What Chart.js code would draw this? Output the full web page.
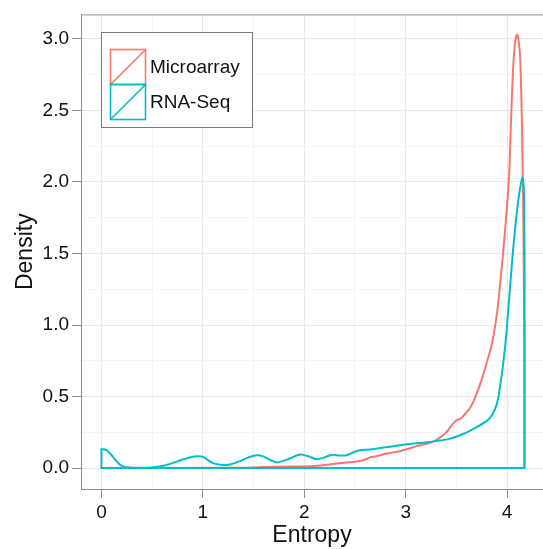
<!DOCTYPE html>
<html><head><meta charset="utf-8">
<script src="https://cdn.jsdelivr.net/npm/chart.js@4"></script>
<style>html,body{margin:0;padding:0;background:#fff}canvas{display:block}</style>
</head><body>
<canvas id="c" width="543" height="549"></canvas>
<script>
// ---- data ----
const seriesNames = ['Microarray', 'RNA-Seq'];
const seriesColors = ['#F8766D', '#00BFC4'];

const microarrayX = [0, 0.5, 1.0, 1.3, 1.5, 1.7, 1.9, 2.0, 2.1, 2.2, 2.3, 2.4, 2.5, 2.55, 2.6, 2.65, 2.7, 2.75, 2.8, 2.85, 2.9, 2.95, 3.0, 3.05, 3.1, 3.15, 3.2, 3.25, 3.3, 3.35, 3.4, 3.45, 3.5, 3.55, 3.6, 3.65, 3.7, 3.75, 3.8, 3.85, 3.9, 3.93, 3.96, 3.99, 4.02, 4.04, 4.06, 4.08, 4.1, 4.115, 4.13, 4.145, 4.155, 4.163, 4.17];
const microarrayY = [0.001, 0.001, 0.002, 0.003, 0.005, 0.01, 0.012, 0.012, 0.015, 0.022, 0.03, 0.038, 0.045, 0.05, 0.06, 0.075, 0.082, 0.09, 0.1, 0.107, 0.113, 0.12, 0.13, 0.14, 0.152, 0.16, 0.168, 0.178, 0.195, 0.22, 0.25, 0.295, 0.334, 0.35, 0.39, 0.44, 0.52, 0.62, 0.74, 0.867, 1.08, 1.28, 1.5, 1.75, 2.05, 2.45, 2.8, 2.98, 3.03, 2.98, 2.85, 2.45, 2.0, 1.5, 0.8];

const rnaseqX = [0, 0.03, 0.06, 0.1, 0.14, 0.18, 0.22, 0.3, 0.4, 0.5, 0.6, 0.7, 0.8, 0.9, 0.955, 1.0, 1.1, 1.2, 1.27, 1.35, 1.45, 1.53, 1.6, 1.67, 1.74, 1.85, 1.96, 2.05, 2.12, 2.2, 2.27, 2.35, 2.42, 2.5, 2.55, 2.65, 2.8, 3.0, 3.24, 3.44, 3.57, 3.7, 3.8, 3.85, 3.9, 3.93, 3.96, 3.99, 4.02, 4.05, 4.09, 4.12, 4.15, 4.165, 4.172];
const rnaseqY = [0.132, 0.13, 0.12, 0.09, 0.055, 0.025, 0.01, 0.003, 0.002, 0.005, 0.015, 0.035, 0.06, 0.08, 0.083, 0.078, 0.035, 0.022, 0.025, 0.045, 0.075, 0.09, 0.08, 0.055, 0.04, 0.065, 0.095, 0.08, 0.062, 0.075, 0.093, 0.088, 0.09, 0.115, 0.125, 0.13, 0.145, 0.165, 0.183, 0.206, 0.24, 0.287, 0.33, 0.37, 0.45, 0.57, 0.72, 0.92, 1.18, 1.45, 1.75, 1.92, 2.03, 1.95, 1.5];

const xMajorTicks = [0, 1, 2, 3, 4];
const xMinorTicks = [0.5, 1.5, 2.5, 3.5];
const yMajorTicks = [0, 0.5, 1, 1.5, 2, 2.5, 3];
const yMinorTicks = [0.25, 0.75, 1.25, 1.75, 2.25, 2.75];
const xTitle = 'Entropy';
const yTitle = 'Density';

// ---- build ----
const toPts = (xs, ys) => xs.map((x, i) => ({x: x, y: ys[i]}));
// density outline is closed down to the baseline (like geom_density)
const closure = (xs, ys) => {
  const n = xs.length - 1;
  return [{x: xs[n], y: ys[n]}, {x: xs[n], y: 0}, {x: xs[0], y: 0}, {x: xs[0], y: ys[0]}];
};
const FONT = "'Liberation Sans', Arial, Helvetica, sans-serif";
const AXIS = '#8f8f8f';

function isMajor(list, v) { return list.some(t => Math.abs(t - v) < 1e-9); }

const topBorder = {
  id: 'topBorder',
  afterDraw(chart) {
    const {ctx, chartArea: a} = chart;
    ctx.save();
    ctx.strokeStyle = AXIS; ctx.lineWidth = 1;
    ctx.beginPath(); ctx.moveTo(a.left, a.top + 0.5); ctx.lineTo(a.right, a.top + 0.5); ctx.stroke();
    ctx.restore();
  }
};

const ggLegend = {
  id: 'ggLegend',
  afterDraw(chart, args, o) {
    const ctx = chart.ctx;
    ctx.save();
    ctx.fillStyle = '#fff';
    ctx.fillRect(o.x, o.y, o.w, o.h);
    ctx.strokeStyle = '#7a7a7a'; ctx.lineWidth = 1;
    ctx.strokeRect(o.x + 0.5, o.y + 0.5, o.w, o.h);
    const ds = chart.data.datasets.filter(d => d.inLegend).sort((a, b) => a.legendIndex - b.legendIndex);
    ds.forEach((d, i) => {
      const kx = o.x + o.keyX, ky = o.y + o.keyY + i * o.keyH;
      ctx.strokeStyle = d.borderColor; ctx.lineWidth = 1.6;
      ctx.strokeRect(kx + 0.5, ky + 0.5, o.keyW, o.keyH);
      ctx.beginPath(); ctx.moveTo(kx + 0.5, ky + o.keyH + 0.5); ctx.lineTo(kx + o.keyW + 0.5, ky + 0.5); ctx.stroke();
      ctx.fillStyle = '#111';
      ctx.font = o.font;
      ctx.textBaseline = 'middle';
      ctx.fillText(d.label, kx + o.keyW + 5, ky + o.keyH / 2 + 1);
    });
    ctx.restore();
  }
};

const common = {showLine: true, pointRadius: 0, pointHitRadius: 0, borderWidth: 2, fill: false, borderJoinStyle: 'round', borderCapStyle: 'round'};

new Chart(document.getElementById('c'), {
  type: 'scatter',
  data: {
    datasets: [
      Object.assign({label: seriesNames[1], inLegend: true, legendIndex: 1, data: toPts(rnaseqX, rnaseqY), borderColor: seriesColors[1], order: 0, tension: 0.3}, common),
      Object.assign({label: seriesNames[1] + ' base', data: closure(rnaseqX, rnaseqY), borderColor: seriesColors[1], order: 1, tension: 0}, common),
      Object.assign({label: seriesNames[0], inLegend: true, legendIndex: 0, data: toPts(microarrayX, microarrayY), borderColor: seriesColors[0], order: 2, tension: 0.3}, common),
      Object.assign({label: seriesNames[0] + ' base', data: closure(microarrayX, microarrayY), borderColor: seriesColors[0], order: 3, tension: 0}, common)
    ]
  },
  options: {
    responsive: false, animation: false, devicePixelRatio: 1,
    layout: {padding: {top: 12, right: 0, left: 0, bottom: 0}},
    plugins: {
      legend: {display: false}, tooltip: {enabled: false},
      ggLegend: {x: 101, y: 32, w: 151, h: 95, keyX: 9, keyY: 17, keyW: 35, keyH: 35, font: '19px ' + FONT}
    },
    scales: {
      x: {
        type: 'linear', min: -0.202, max: 4.354,
        afterBuildTicks: ax => { ax.ticks = xMajorTicks.concat(xMinorTicks).sort((a, b) => a - b).map(v => ({value: v})); },
        afterFit: s => { s.height = 60; },
        ticks: {autoSkip: false, maxRotation: 0, padding: 3, color: '#111', font: {family: FONT, size: 19},
          callback: v => isMajor(xMajorTicks, v) ? String(v) : ''},
        grid: {color: c => isMajor(xMajorTicks, c.tick.value) ? '#e8e8e8' : '#f5f5f5', lineWidth: 1,
          tickColor: c => isMajor(xMajorTicks, c.tick.value) ? AXIS : 'rgba(0,0,0,0)', tickLength: 9, drawTicks: true},
        border: {color: AXIS, width: 1},
        title: {display: true, text: xTitle, color: '#111', font: {family: FONT, size: 23}, padding: {top: 0, bottom: 0}}
      },
      y: {
        type: 'linear', min: -0.146, max: 3.171,
        afterBuildTicks: ax => { ax.ticks = yMajorTicks.concat(yMinorTicks).sort((a, b) => a - b).map(v => ({value: v})); },
        afterFit: s => { s.width = 81; },
        ticks: {autoSkip: false, padding: 3, color: '#111', font: {family: FONT, size: 19},
          callback: v => isMajor(yMajorTicks, v) ? v.toFixed(1) : ''},
        grid: {color: c => isMajor(yMajorTicks, c.tick.value) ? '#e8e8e8' : '#f5f5f5', lineWidth: 1,
          tickColor: c => isMajor(yMajorTicks, c.tick.value) ? AXIS : 'rgba(0,0,0,0)', tickLength: 9, drawTicks: true},
        border: {color: AXIS, width: 1},
        title: {display: true, text: yTitle, color: '#111', font: {family: FONT, size: 23}, padding: {top: 12, bottom: 0}}
      }
    }
  },
  plugins: [topBorder, ggLegend]
});
</script>
</body></html>
